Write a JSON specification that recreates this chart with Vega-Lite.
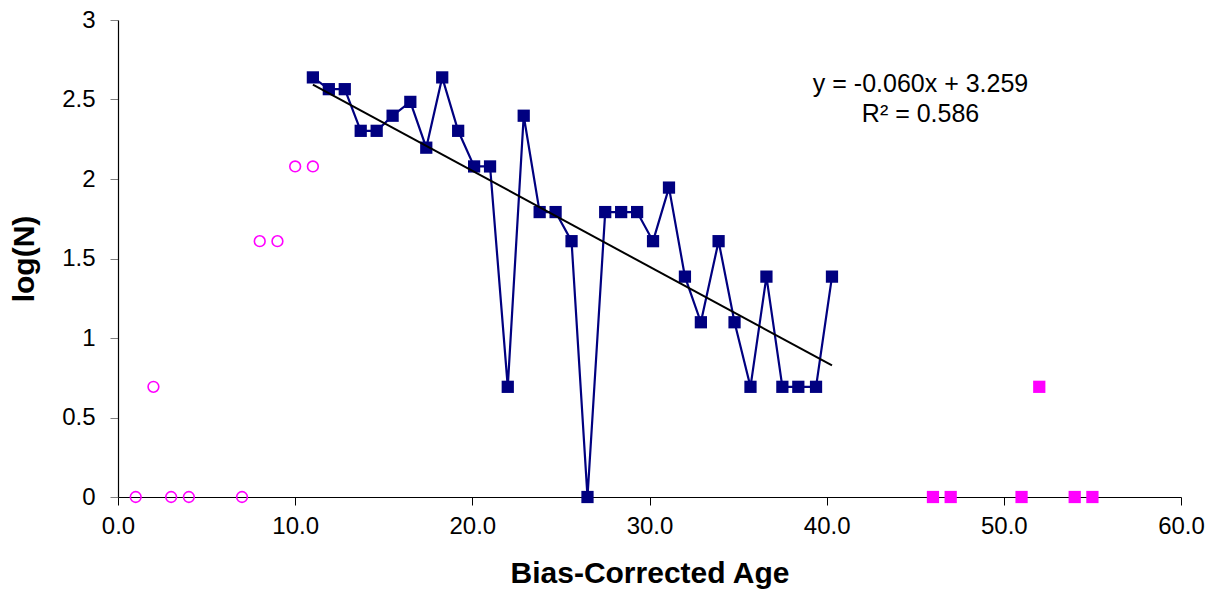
{
  "$schema": "https://vega.github.io/schema/vega-lite/v6.json",
  "width": 1063,
  "height": 477,
  "autosize": {"type": "none"},
  "padding": {"left": 118, "top": 20, "right": 36, "bottom": 101},
  "background": "white",
  "config": {
    "view": {"stroke": null},
    "font": "Liberation Sans",
    "axis": {"grid": false, "domainColor": "black", "domainWidth": 1.2, "tickColor": "#808080", "tickSize": 8, "labelFlush": false, "labelFont": "Liberation Sans", "labelFontSize": 24, "labelColor": "black", "titleFont": "Liberation Sans", "titleFontSize": 30, "titleFontWeight": "bold", "titleColor": "black"}
  },
  "data": {
    "values": [
      {"age": 1, "logN": 0, "group": "young"},
      {"age": 2, "logN": 0.693, "group": "young"},
      {"age": 3, "logN": 0, "group": "young"},
      {"age": 4, "logN": 0, "group": "young"},
      {"age": 7, "logN": 0, "group": "young"},
      {"age": 8, "logN": 1.609, "group": "young"},
      {"age": 9, "logN": 1.609, "group": "young"},
      {"age": 10, "logN": 2.079, "group": "young"},
      {"age": 11, "logN": 2.079, "group": "young"},
      {"age": 11.0, "logN": 2.639, "group": "main"},
      {"age": 11.9, "logN": 2.565, "group": "main"},
      {"age": 12.8, "logN": 2.565, "group": "main"},
      {"age": 13.7, "logN": 2.303, "group": "main"},
      {"age": 14.6, "logN": 2.303, "group": "main"},
      {"age": 15.5, "logN": 2.398, "group": "main"},
      {"age": 16.5, "logN": 2.485, "group": "main"},
      {"age": 17.4, "logN": 2.197, "group": "main"},
      {"age": 18.3, "logN": 2.639, "group": "main"},
      {"age": 19.2, "logN": 2.303, "group": "main"},
      {"age": 20.1, "logN": 2.079, "group": "main"},
      {"age": 21.0, "logN": 2.079, "group": "main"},
      {"age": 22.0, "logN": 0.693, "group": "main"},
      {"age": 22.9, "logN": 2.398, "group": "main"},
      {"age": 23.8, "logN": 1.792, "group": "main"},
      {"age": 24.7, "logN": 1.792, "group": "main"},
      {"age": 25.6, "logN": 1.609, "group": "main"},
      {"age": 26.5, "logN": 0, "group": "main"},
      {"age": 27.5, "logN": 1.792, "group": "main"},
      {"age": 28.4, "logN": 1.792, "group": "main"},
      {"age": 29.3, "logN": 1.792, "group": "main"},
      {"age": 30.2, "logN": 1.609, "group": "main"},
      {"age": 31.1, "logN": 1.946, "group": "main"},
      {"age": 32.0, "logN": 1.386, "group": "main"},
      {"age": 32.9, "logN": 1.099, "group": "main"},
      {"age": 33.9, "logN": 1.609, "group": "main"},
      {"age": 34.8, "logN": 1.099, "group": "main"},
      {"age": 35.7, "logN": 0.693, "group": "main"},
      {"age": 36.6, "logN": 1.386, "group": "main"},
      {"age": 37.5, "logN": 0.693, "group": "main"},
      {"age": 38.4, "logN": 0.693, "group": "main"},
      {"age": 39.4, "logN": 0.693, "group": "main"},
      {"age": 40.3, "logN": 1.386, "group": "main"},
      {"age": 46, "logN": 0, "group": "old"},
      {"age": 47, "logN": 0, "group": "old"},
      {"age": 51, "logN": 0, "group": "old"},
      {"age": 52, "logN": 0.693, "group": "old"},
      {"age": 54, "logN": 0, "group": "old"},
      {"age": 55, "logN": 0, "group": "old"}
    ]
  },
  "encoding": {
    "x": {"field": "age", "type": "quantitative", "scale": {"domain": [0, 60], "nice": false, "zero": false}, "axis": {"values": [0, 10, 20, 30, 40, 50, 60], "format": ".1f", "title": "Bias-Corrected Age", "labelPadding": 9, "titlePadding": 20, "tickColor": "black"}},
    "y": {"field": "logN", "type": "quantitative", "scale": {"domain": [0, 3], "nice": false}, "axis": {"values": [0, 0.5, 1, 1.5, 2, 2.5, 3], "format": "~g", "title": "log(N)", "labelPadding": 15, "titlePadding": 22}}
  },
  "layer": [
    {
      "transform": [{"filter": "datum.group === 'main'"}],
      "mark": {"type": "line", "color": "#000080", "strokeWidth": 2.2}
    },
    {
      "transform": [{"filter": "datum.group === 'main'"}],
      "mark": {"type": "point", "shape": "square", "filled": true, "color": "#000080", "size": 150, "opacity": 1}
    },
    {
      "transform": [{"filter": "datum.group === 'main'"}, {"regression": "logN", "on": "age"}],
      "mark": {"type": "line", "color": "black", "strokeWidth": 2}
    },
    {
      "transform": [{"filter": "datum.group === 'young'"}],
      "mark": {"type": "point", "shape": "circle", "filled": false, "color": "#FF00FF", "size": 115, "strokeWidth": 1.6, "opacity": 1}
    },
    {
      "transform": [{"filter": "datum.group === 'old'"}],
      "mark": {"type": "point", "shape": "square", "filled": true, "color": "#FF00FF", "size": 150, "opacity": 1}
    },
    {
      "transform": [{"filter": "datum.group === 'old' && datum.age === 46"}],
      "mark": {"type": "text", "text": "y = -0.060x + 3.259", "fontSize": 25, "font": "Liberation Sans", "align": "center", "baseline": "alphabetic", "color": "black"},
      "encoding": {"x": {"datum": 45.3, "type": "quantitative"}, "y": {"datum": 2.55, "type": "quantitative"}}
    },
    {
      "transform": [{"filter": "datum.group === 'old' && datum.age === 46"}],
      "mark": {"type": "text", "text": "R² = 0.586", "fontSize": 25, "font": "Liberation Sans", "align": "center", "baseline": "alphabetic", "color": "black"},
      "encoding": {"x": {"datum": 45.3, "type": "quantitative"}, "y": {"datum": 2.36, "type": "quantitative"}}
    }
  ]
}
